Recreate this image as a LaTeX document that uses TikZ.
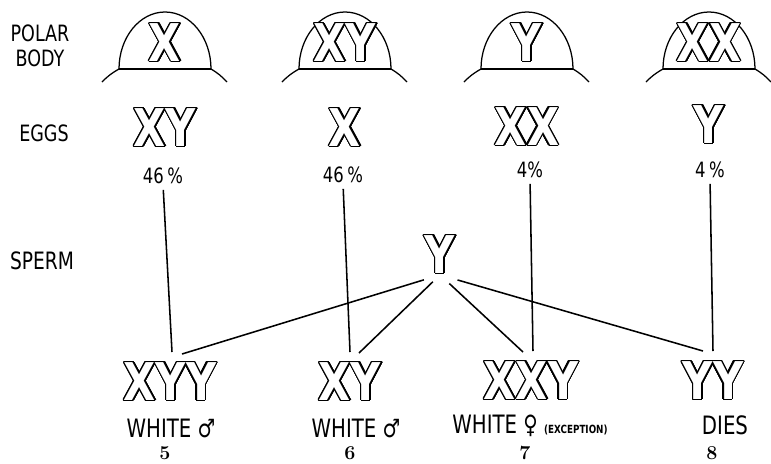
\documentclass[tikz,border=0pt]{standalone}
\usepackage{fontspec}
\usepackage[copies]{contour}
\usetikzlibrary{calc}
\newfontfamily\chromfont{DejaVu Sans}[FakeStretch=0.8]
\newfontfamily\handfont{DejaVu Sans}[FakeStretch=0.78]
\contourlength{0.9pt}
\contournumber{24}
\newcommand{\outl}[1]{\textcolor{white}{\contour{black}{#1}}}

\begin{document}
\begin{tikzpicture}[
  x=0.025cm, y=-0.025cm,
  chrom/.style={inner sep=0pt, font=\chromfont\bfseries\fontsize{37}{40}\selectfont},
  rowlbl/.style={inner sep=0pt, font=\handfont\fontsize{16}{18}\selectfont},
  pct/.style={inner sep=0pt, font=\handfont\fontsize{15}{17}\selectfont},
  note/.style={inner sep=0pt, font=\handfont\fontsize{18}{20}\selectfont},
  num/.style={inner sep=0pt, font=\bfseries\fontsize{14}{16}\selectfont},
  dome/.style={line width=0.9pt},
  link/.style={line width=1.1pt},
]
\useasboundingbox (0,0) rectangle (771,463);

%% Row labels
\node[rowlbl] (lpolar) at (40,33) {POLAR};
\node[rowlbl] (lbody)  at (40,58) {BODY};
\node[rowlbl] (leggs)  at (44,133) {EGGS};
\node[rowlbl, font=\handfont\fontsize{17}{19}\selectfont] (lsperm) at (42,261) {SPERM};

%% Polar bodies
\foreach \cx/\ch [count=\i] in {165/X, 345/XY, 527/Y, 709/XX} {
  \draw[dome] (\cx-63,82) to[bend left=8] (\cx-46,69)
    arc[start angle=180, end angle=360, x radius=46, y radius=57]
    to[bend left=8] (\cx+62,82);
  \draw[dome] (\cx-46,69) -- (\cx+46,69);
  \node[chrom] (pb\i) at (\cx,43) {\outl{\ch}};
}

%% Eggs and percentages
\node[chrom] (e1) at (165,128) {\outl{XY}};
\node[chrom] (e2) at (345,128) {\outl{X}};
\node[chrom] (e3) at (527,127) {\outl{XX}};
\node[chrom] (e4) at (709,125) {\outl{Y}};
\node[pct] (p1) at (163,176) {46\,\%};
\node[pct] (p2) at (343,175) {46\,\%};
\node[pct] (p3) at (530,170) {4\%};
\node[pct] (p4) at (710,170) {4\,\%};

%% Sperm
\node[chrom] (s) at (440,255) {\outl{Y}};

%% Offspring
\node[chrom] (o1) at (170,382) {\outl{XYY}};
\node[chrom] (o2) at (350,382) {\outl{XY}};
\node[chrom] (o3) at (531,381) {\outl{XXY}};
\node[chrom] (o4) at (713,381) {\outl{YY}};
\node[note] (w1) at (171,428) {WHITE ♂};
\node[note] (w2) at (356,428) {WHITE ♂};
\node[note] (w3) at (530,426) {WHITE ♀ {\bfseries\fontsize{8}{9}\selectfont(EXCEPTION)}};
\node[note] (w4) at (725,425) {DIES};
\node[num] (n1) at (165,453) {5};
\node[num] (n2) at (350,453) {6};
\node[num] (n3) at (525,453) {7};
\node[num] (n4) at (712,453) {8};

%% egg lines
\foreach \i/\dx in {1/2, 2/0, 3/2, 4/0} {
  \draw[link, shorten <=4pt] (p\i.south) -- ($(o\i.center)+(\dx,-30)$);
}

%% sperm lines
\draw[link, shorten <=12pt] (s.south) -- ($(o1.center)+(12,-28)$);
\draw[link, shorten <=7pt]  (s.south) -- ($(o2.center)+(9,-29)$);
\draw[link, shorten <=9pt]  (s.south) -- ($(o3.center)+(-8,-29)$);
\draw[link, shorten <=13pt] (s.south) -- ($(o4.center)+(-10,-30)$);

\end{tikzpicture}
\end{document}
